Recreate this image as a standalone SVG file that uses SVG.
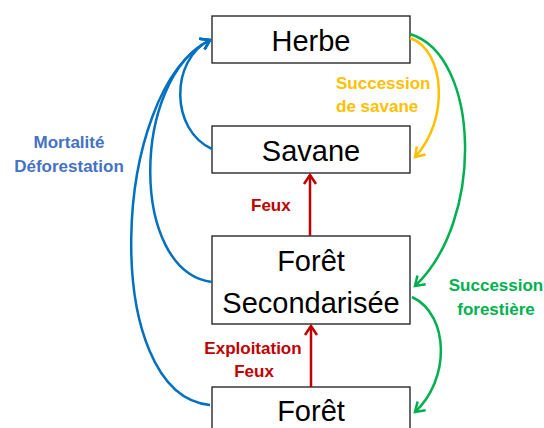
<svg xmlns="http://www.w3.org/2000/svg" width="544" height="428" viewBox="0 0 544 428">
<style>
.box{fill:#fff;stroke:#1a1a1a;stroke-width:1.3}
.nt{font-family:"Liberation Sans",Arial,sans-serif;font-size:29px;fill:#000;text-anchor:middle}
.lb{font-family:"Liberation Sans",Arial,sans-serif;font-size:17px;font-weight:bold}
.c{fill:none;stroke-width:2.5}
</style>
<defs>
<marker id="mb" markerWidth="20" markerHeight="20" refX="0" refY="0" viewBox="-12 -10 16 20" orient="auto" markerUnits="userSpaceOnUse"><path d="M-9,-6 L0,0 L-9,6" fill="none" stroke="#0070C0" stroke-width="2.5"/></marker>
<marker id="mo" markerWidth="20" markerHeight="20" refX="0" refY="0" viewBox="-12 -10 16 20" orient="auto" markerUnits="userSpaceOnUse"><path d="M-9,-6 L0,0 L-9,6" fill="none" stroke="#FFC000" stroke-width="2.5"/></marker>
<marker id="mg" markerWidth="20" markerHeight="20" refX="0" refY="0" viewBox="-12 -10 16 20" orient="auto" markerUnits="userSpaceOnUse"><path d="M-9,-6 L0,0 L-9,6" fill="none" stroke="#00B050" stroke-width="2.5"/></marker>
<marker id="mr" markerWidth="20" markerHeight="20" refX="0" refY="0" viewBox="-12 -10 16 20" orient="auto" markerUnits="userSpaceOnUse"><path d="M-9,-6 L0,0 L-9,6" fill="none" stroke="#C00000" stroke-width="2.5"/></marker>
</defs>
<g id="herbe"><rect class="box" x="212" y="16" width="198" height="47"/><text class="nt" x="311" y="51">Herbe</text></g>
<g id="savane"><rect class="box" x="212" y="126" width="198" height="47"/><text class="nt" x="311" y="161">Savane</text></g>
<g id="foret-sec"><rect class="box" x="212" y="236" width="198" height="88"/><text class="nt" x="311" y="271">Forêt</text><text class="nt" x="311" y="313">Secondarisée</text></g>
<g id="foret"><rect class="box" x="212" y="387" width="198" height="60"/><text class="nt" x="311" y="421">Forêt</text></g>
<g id="connectors">
<path class="c" stroke="#0070C0" d="M212,149 C170,130 170,60 210,40" marker-end="url(#mb)"/>
<path class="c" stroke="#0070C0" d="M212,282 C130,272 130,80 210,40" marker-end="url(#mb)"/>
<path class="c" stroke="#0070C0" d="M210,405 C100,395 110,90 210,40" marker-end="url(#mb)"/>
<path class="c" stroke="#FFC000" d="M410,38 C445,50 450,120 415,157" marker-end="url(#mo)"/>
<path class="c" stroke="#00B050" d="M410,34 C480,55 485,220 415,286" marker-end="url(#mg)"/>
<path class="c" stroke="#00B050" d="M412,297 C450,315 450,380 415,412" marker-end="url(#mg)"/>
<line class="c" stroke="#C00000" x1="310" y1="236" x2="310" y2="175" marker-end="url(#mr)"/>
<line class="c" stroke="#C00000" x1="311" y1="387" x2="311" y2="326" marker-end="url(#mr)"/>
</g>
<g id="labels">
<text class="lb" fill="#4472C4" text-anchor="middle" x="69" y="148">Mortalité</text>
<text class="lb" fill="#4472C4" text-anchor="middle" x="69" y="172">Déforestation</text>
<text class="lb" fill="#FFC000" x="336" y="89">Succession</text>
<text class="lb" fill="#FFC000" x="336" y="112">de savane</text>
<text class="lb" fill="#C00000" x="251" y="211">Feux</text>
<text class="lb" fill="#C00000" text-anchor="middle" x="253" y="354">Exploitation</text>
<text class="lb" fill="#C00000" text-anchor="middle" x="254" y="377">Feux</text>
<text class="lb" fill="#00B050" text-anchor="middle" x="496" y="291">Succession</text>
<text class="lb" fill="#00B050" text-anchor="middle" x="496" y="315">forestière</text>
</g>
</svg>
